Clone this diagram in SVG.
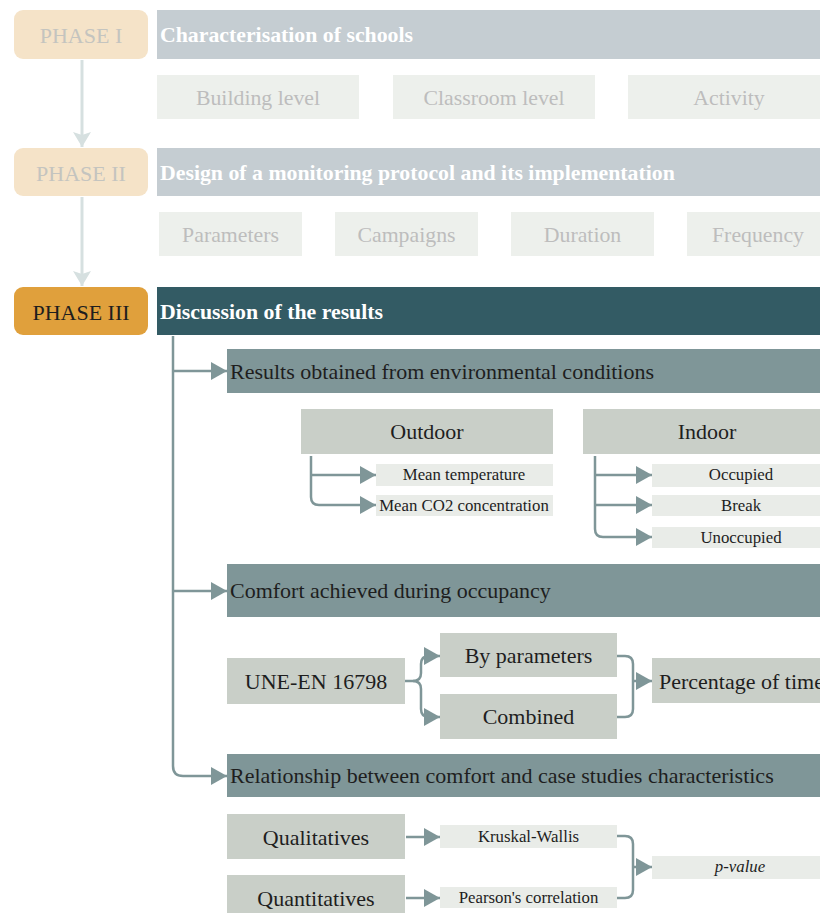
<svg xmlns="http://www.w3.org/2000/svg" width="820" height="913" viewBox="0 0 820 913">
  <style>
    text { font-family: "Liberation Serif", "Times New Roman", serif; }
    .phase-faded { fill: #f5e3c8; }
    .phase-active { fill: #e0a03c; }
    .hdr-faded { fill: #c5cdd2; }
    .hdr-active { fill: #335b64; }
    .sub-faded { fill: #edf0ec; }
    .bar { fill: #7f9698; }
    .box { fill: #c9cfc8; }
    .leaf { fill: #e9ece8; }
    .t-phase { font-size: 22px; text-anchor: middle; }
    .t-hdr { font-size: 21.8px; font-weight: bold; fill: #ffffff; }
    .t-faded { font-size: 21.8px; fill: #bdbdbd; text-anchor: middle; }
    .t-bar { font-size: 22px; fill: #1e1e1e; }
    .t-box { font-size: 22px; fill: #1e1e1e; text-anchor: middle; }
    .t-leaf { font-size: 16.8px; fill: #1e1e1e; text-anchor: middle; }
    .flow { fill: none; stroke: #d6e0e0; stroke-width: 3; }
    .link { fill: none; stroke: #7f9698; stroke-width: 2.5; }
  </style>
  <defs>
    <marker id="head" markerUnits="userSpaceOnUse" markerWidth="17" markerHeight="18" refX="16" refY="9" orient="auto">
      <path d="M0,0 L16,9 L0,18 Z" fill="#7f9698"/>
    </marker>
    <marker id="flowhead" markerUnits="userSpaceOnUse" markerWidth="16" markerHeight="18" refX="15" refY="9" orient="auto">
      <path d="M0,0 L15,9 L0,18 L3,9 Z" fill="#d6e0e0"/>
    </marker>
  </defs>

  <!-- Phase I -->
  <g id="phase1">
    <rect class="phase-faded" x="14" y="10" width="134" height="49" rx="9"/>
    <text class="t-phase" x="81" y="43" fill="#c4c4bf">PHASE I</text>
  </g>
  <g id="phase1-header">
    <rect class="hdr-faded" x="157" y="10" width="663" height="49"/>
    <text class="t-hdr" x="160" y="42">Characterisation of schools</text>
  </g>
  <g id="building-level">
    <rect class="sub-faded" x="157" y="75" width="202" height="44"/>
    <text class="t-faded" x="258" y="105">Building level</text>
  </g>
  <g id="classroom-level">
    <rect class="sub-faded" x="393" y="75" width="202" height="44"/>
    <text class="t-faded" x="494" y="105">Classroom level</text>
  </g>
  <g id="activity">
    <rect class="sub-faded" x="628" y="75" width="192" height="44"/>
    <text class="t-faded" x="729" y="105">Activity</text>
  </g>

  <!-- Phase II -->
  <g id="phase2">
    <rect class="phase-faded" x="14" y="148" width="134" height="48" rx="9"/>
    <text class="t-phase" x="81" y="181" fill="#c4c4bf">PHASE II</text>
  </g>
  <g id="phase2-header">
    <rect class="hdr-faded" x="157" y="148" width="663" height="48"/>
    <text class="t-hdr" x="160" y="180">Design of a monitoring protocol and its implementation</text>
  </g>
  <g id="parameters">
    <rect class="sub-faded" x="159" y="212" width="143" height="44"/>
    <text class="t-faded" x="230.5" y="242">Parameters</text>
  </g>
  <g id="campaigns">
    <rect class="sub-faded" x="335" y="212" width="143" height="44"/>
    <text class="t-faded" x="406.5" y="242">Campaigns</text>
  </g>
  <g id="duration">
    <rect class="sub-faded" x="511" y="212" width="143" height="44"/>
    <text class="t-faded" x="582.5" y="242">Duration</text>
  </g>
  <g id="frequency">
    <rect class="sub-faded" x="687" y="212" width="133" height="44"/>
    <text class="t-faded" x="758" y="242">Frequency</text>
  </g>

  <!-- Phase III -->
  <g id="phase3">
    <rect class="phase-active" x="14" y="287" width="134" height="48" rx="9"/>
    <text class="t-phase" x="81" y="320" fill="#1e1e1e">PHASE III</text>
  </g>
  <g id="phase3-header">
    <rect class="hdr-active" x="157" y="287" width="663" height="48"/>
    <text class="t-hdr" x="160" y="319">Discussion of the results</text>
  </g>

  <g id="env-results">
    <rect class="bar" x="227" y="349" width="593" height="44"/>
    <text class="t-bar" x="230" y="379">Results obtained from environmental conditions</text>
  </g>
  <g id="outdoor">
    <rect class="box" x="301" y="409" width="252" height="45"/>
    <text class="t-box" x="427" y="439">Outdoor</text>
  </g>
  <g id="mean-temperature">
    <rect class="leaf" x="376" y="464" width="177" height="22"/>
    <text class="t-leaf" x="464" y="480">Mean temperature</text>
  </g>
  <g id="mean-co2">
    <rect class="leaf" x="376" y="495" width="177" height="21"/>
    <text class="t-leaf" x="464" y="511">Mean CO2 concentration</text>
  </g>
  <g id="indoor">
    <rect class="box" x="583" y="409" width="237" height="45"/>
    <text class="t-box" x="707" y="439">Indoor</text>
  </g>
  <g id="occupied">
    <rect class="leaf" x="652" y="464" width="168" height="23"/>
    <text class="t-leaf" x="741" y="480">Occupied</text>
  </g>
  <g id="break">
    <rect class="leaf" x="652" y="495" width="168" height="21"/>
    <text class="t-leaf" x="741" y="511">Break</text>
  </g>
  <g id="unoccupied">
    <rect class="leaf" x="652" y="527" width="168" height="21"/>
    <text class="t-leaf" x="741" y="543">Unoccupied</text>
  </g>

  <g id="comfort">
    <rect class="bar" x="227" y="564" width="593" height="53"/>
    <text class="t-bar" x="230" y="598">Comfort achieved during occupancy</text>
  </g>
  <g id="une-en">
    <rect class="box" x="227" y="658" width="178" height="46"/>
    <text class="t-box" x="316" y="689">UNE-EN 16798</text>
  </g>
  <g id="by-parameters">
    <rect class="box" x="440" y="633" width="177" height="44"/>
    <text class="t-box" x="528.5" y="663">By parameters</text>
  </g>
  <g id="combined">
    <rect class="box" x="440" y="694" width="177" height="45"/>
    <text class="t-box" x="528.5" y="724">Combined</text>
  </g>
  <g id="percentage">
    <rect class="box" x="652" y="658" width="168" height="45"/>
    <text class="t-bar" x="659" y="689">Percentage of time</text>
  </g>

  <g id="relationship">
    <rect class="bar" x="227" y="754" width="593" height="43"/>
    <text class="t-bar" x="230" y="783">Relationship between comfort and case studies characteristics</text>
  </g>
  <g id="qualitatives">
    <rect class="box" x="227" y="814" width="178" height="45"/>
    <text class="t-box" x="316" y="845">Qualitatives</text>
  </g>
  <g id="quantitatives">
    <rect class="box" x="227" y="875" width="178" height="38"/>
    <text class="t-box" x="316" y="906">Quantitatives</text>
  </g>
  <g id="kruskal">
    <rect class="leaf" x="440" y="825" width="177" height="23"/>
    <text class="t-leaf" x="528.5" y="842">Kruskal-Wallis</text>
  </g>
  <g id="pearson">
    <rect class="leaf" x="440" y="887" width="177" height="21"/>
    <text class="t-leaf" x="528.5" y="903">Pearson's correlation</text>
  </g>
  <g id="p-value">
    <rect class="leaf" x="652" y="856" width="168" height="23"/>
    <text class="t-leaf" x="740" y="872" font-style="italic">p-value</text>
  </g>

  <!-- Connectors -->
  <g id="connectors">
    <!-- phase sequence -->
    <path class="flow" d="M82,60 V147" marker-end="url(#flowhead)"/>
    <path class="flow" d="M82,197 V286" marker-end="url(#flowhead)"/>

    <!-- phase III trunk -->
    <path class="link" d="M173,336 V766 Q173,776 183,776 H227" marker-end="url(#head)"/>
    <path class="link" d="M173,371 H227" marker-end="url(#head)"/>
    <path class="link" d="M173,591 H227" marker-end="url(#head)"/>

    <!-- outdoor -->
    <path class="link" d="M311,456 V497 Q311,505 319,505 H376" marker-end="url(#head)"/>
    <path class="link" d="M311,475 H376" marker-end="url(#head)"/>

    <!-- indoor -->
    <path class="link" d="M595,456 V529 Q595,537 603,537 H652" marker-end="url(#head)"/>
    <path class="link" d="M595,475 H652" marker-end="url(#head)"/>
    <path class="link" d="M595,505 H652" marker-end="url(#head)"/>

    <!-- UNE-EN split -->
    <path class="link" d="M405,681 H413 Q421,681 421,673 V664 Q421,656 429,656 H440" marker-end="url(#head)"/>
    <path class="link" d="M413,681 Q421,681 421,689 V709 Q421,717 429,717 H440" marker-end="url(#head)"/>

    <!-- merge into percentage -->
    <path class="link" d="M617,656 H625 Q633,656 633,664 V709 Q633,717 625,717 H617"/>
    <path class="link" d="M633,681 H652" marker-end="url(#head)"/>

    <!-- statistics -->
    <path class="link" d="M406,837 H440" marker-end="url(#head)"/>
    <path class="link" d="M406,898 H440" marker-end="url(#head)"/>
    <path class="link" d="M617,836 H625 Q633,836 633,844 V890 Q633,898 625,898 H617"/>
    <path class="link" d="M633,867 H652" marker-end="url(#head)"/>
  </g>
</svg>
